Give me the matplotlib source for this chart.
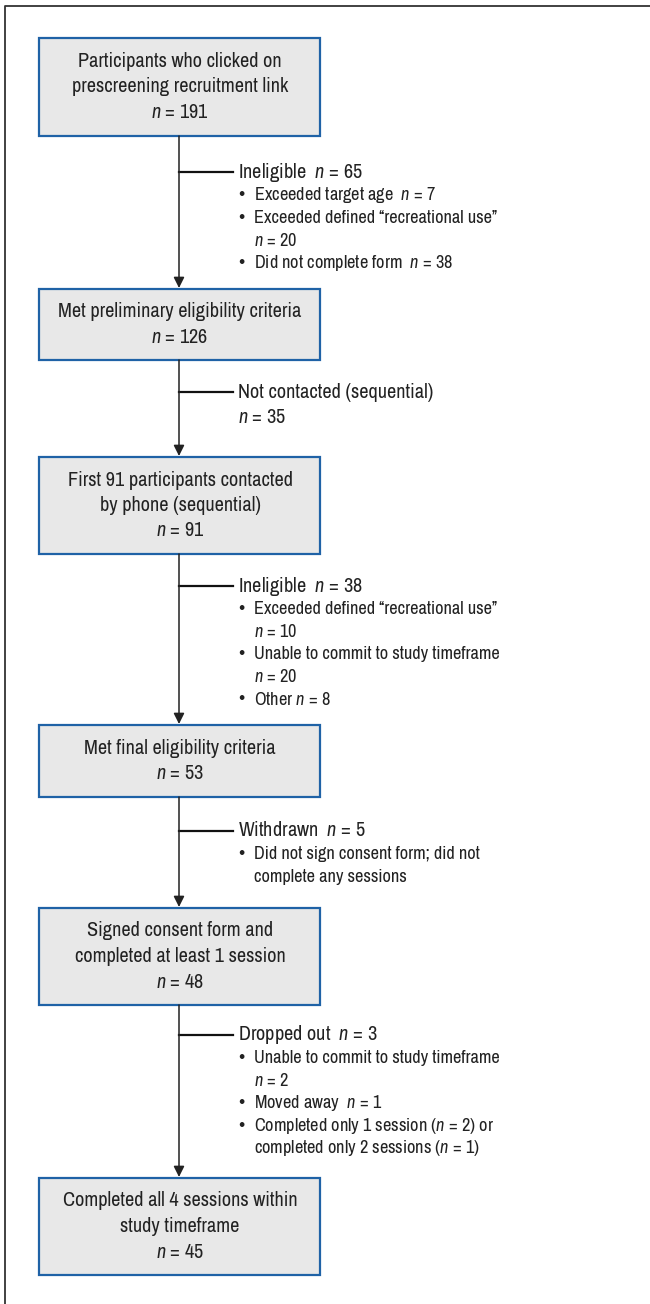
import matplotlib.pyplot as plt
from matplotlib.patches import Rectangle
from matplotlib import font_manager
from matplotlib.font_manager import FontProperties
from matplotlib.textpath import TextPath

# flow data
box_text = [
    ['Participants who clicked on', 'prescreening recruitment link'],
    ['Met preliminary eligibility criteria'],
    ['First 91 participants contacted', 'by phone (sequential)'],
    ['Met final eligibility criteria'],
    ['Signed consent form and', 'completed at least 1 session'],
    ['Completed all 4 sessions within', 'study timeframe'],
]
box_n = [191, 126, 91, 53, 48, 45]

excl_head = [
    ['Ineligible  $n$ = 65'],
    ['Not contacted (sequential)', '$n$ = 35'],
    ['Ineligible  $n$ = 38'],
    ['Withdrawn  $n$ = 5'],
    ['Dropped out  $n$ = 3'],
]
excl_items = [
    [['Exceeded target age  $n$ = 7'],
     ['Exceeded defined \u201crecreational use\u201d', '$n$ = 20'],
     ['Did not complete form  $n$ = 38']],
    [],
    [['Exceeded defined \u201crecreational use\u201d', '$n$ = 10'],
     ['Unable to commit to study timeframe', '$n$ = 20'],
     ['Other $n$ = 8']],
    [['Did not sign consent form; did not', 'complete any sessions']],
    [['Unable to commit to study timeframe', '$n$ = 2'],
     ['Moved away  $n$ = 1'],
     ['Completed only 1 session ($n$ = 2) or', 'completed only 2 sessions ($n$ = 1)']],
]

# layout (pixels)
box_top = [38, 289, 457, 725, 908, 1178]
box_bot = [136, 360, 554, 797, 1005, 1275]
branch_y = [172, 392, 586, 831, 1035]
x0, x1 = 39, 320
xc = 179
lh = 25.5    # box line spacing
lh2 = 22.6   # side text line spacing

# choose a narrow font: the reference is condensed Helvetica,
# ~242 px for the box line below with ~15 px cap height
names = {f.name for f in font_manager.fontManager.ttflist}
cands = [n for n in ['Liberation Sans Narrow', 'Roboto Condensed', 'Fira Sans Condensed',
                     'Encode Sans Semi Condensed', 'Archivo Narrow'] if n in names]
if not cands:
    cands = ['Liberation Sans']

def px_width(fam, s, size):
    return TextPath((0, 0), s, size=size, prop=FontProperties(family=fam)).get_extents().width * 100 / 72

def px_cap(fam, size):
    return TextPath((0, 0), 'H', size=size, prop=FontProperties(family=fam)).get_extents().height * 100 / 72

ref_line = 'Met preliminary eligibility criteria'
best = None
for f in cands:
    s = 14 * 242 / px_width(f, ref_line, 14)
    c = px_cap(f, s)
    if best is None or abs(c - 15) < abs(best[1] - 15):
        best = (f, c)
fam = best[0]

plt.rcParams['font.family'] = [fam, 'DejaVu Sans']
plt.rcParams['mathtext.fontset'] = 'custom'
plt.rcParams['mathtext.it'] = fam + ':italic'
plt.rcParams['mathtext.rm'] = fam

fs = 14 * 242 / px_width(fam, ref_line, 14)
fs2 = 13 * 241 / px_width(fam, 'Exceeded defined \u201crecreational use\u201d', 13)

fig = plt.figure(figsize=(6.5, 13.04), dpi=100)
ax = fig.add_axes([0, 0, 1, 1])
ax.set_xlim(0, 650)
ax.set_ylim(1304, 0)
ax.axis('off')

# outer frame (cropped at right/bottom)
ax.plot([5, 5, 660], [1310, 5.5, 5.5], color='#333333', lw=1.3)

for i in range(len(box_text)):
    ax.add_patch(Rectangle((x0, box_top[i]), x1 - x0, box_bot[i] - box_top[i],
                           facecolor='#e8e8e8', edgecolor='#1f62a6', lw=1.6, zorder=2))
    lines = box_text[i] + ['$n$ = %d' % box_n[i]]
    mid = (box_top[i] + box_bot[i]) / 2
    start = mid - lh * (len(lines) - 1) / 2
    for j, t in enumerate(lines):
        ax.text(xc + 1, start + j * lh, t, ha='center', va='center', fontsize=fs,
                color='#222222', zorder=3)

for i in range(len(branch_y)):
    ax.annotate('', xy=(xc, box_top[i + 1] - 1), xytext=(xc, box_bot[i]),
                arrowprops=dict(arrowstyle='-|>', color='#222222', lw=1.1,
                                mutation_scale=16, shrinkA=0, shrinkB=0))
    by = branch_y[i]
    ax.plot([xc, 233], [by, by], color='#111111', lw=1.6)
    y = by
    for t in excl_head[i]:
        ax.text(238, y, t, ha='left', va='center', fontsize=fs, color='#222222')
        y += lh2 + 3
    y = by + 23
    for item in excl_items[i]:
        ax.text(238, y, '\u2022', ha='left', va='center', fontsize=fs2 * 1.2, color='#222222')
        for t in item:
            ax.text(254, y, t, ha='left', va='center', fontsize=fs2, color='#222222')
            y += lh2

fig.savefig('out.png', dpi=100)
